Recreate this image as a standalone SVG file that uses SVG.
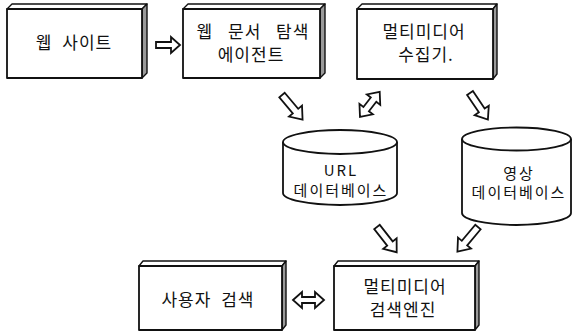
<svg xmlns="http://www.w3.org/2000/svg" width="573" height="335" viewBox="0 0 573 335">
<style>
.front{fill:#fff;stroke:#111;stroke-width:1.8;stroke-linejoin:round}
.top{fill:#fff;stroke:#111;stroke-width:1.4;stroke-linejoin:round}
.side{fill:#9a9a9a;stroke:#111;stroke-width:1.4;stroke-linejoin:round}
.cyl{fill:#fff;stroke:#111;stroke-width:1.8}
.arr{fill:#fff;stroke:#111;stroke-width:1.8;stroke-linejoin:miter}
.t{font-family:"Noto Sans CJK KR","Noto Sans",sans-serif;font-size:17px;fill:#111;text-anchor:middle;letter-spacing:1px}
.c{font-family:"Noto Sans CJK KR","Noto Sans",sans-serif;font-size:15px;fill:#111;text-anchor:middle;letter-spacing:2px}
</style>
<defs>
<path id="blk" d="M0,-3.5 H21 V-8.5 L32,0 L21,8.5 V3.5 H0 Z"/>
<path id="dbl" d="M0,0 L10,-8.5 V-3.5 H22 V-8.5 L32,0 L22,8.5 V3.5 H10 V8.5 Z"/>
</defs>

<g id="connectors">
<path class="arr" d="M156,42 H171 V37 L180,45 L171,53 V48 H156 Z"/>
<use href="#blk" class="arr" transform="translate(282,95) rotate(50)"/>
<use href="#dbl" class="arr" transform="translate(360,117) rotate(-52)"/>
<use href="#blk" class="arr" transform="translate(470,93) rotate(56)"/>
<use href="#blk" class="arr" transform="translate(377,227) rotate(52)"/>
<use href="#blk" class="arr" transform="translate(478,227) rotate(130)"/>
<path class="arr" d="M293,300 L302,292 V297 H315 V292 L324,300 L315,308 V303 H302 V308 Z"/>
</g>

<g id="web-site">
<polygon class="top" points="7,9 12,4 147,4 142,9"/>
<polygon class="side" points="142,9 147,4 147,73 142,78"/>
<rect class="front" x="7" y="9" width="135" height="69"/>
<text class="t" x="74" y="49" word-spacing="5">웹 사이트</text>
</g>

<g id="web-agent">
<polygon class="top" points="183,9 188,4 325,4 320,9"/>
<polygon class="side" points="320,9 325,4 325,73 320,78"/>
<rect class="front" x="183" y="9" width="137" height="69"/>
<text class="t" x="253" y="38" word-spacing="10">웹 문서 탐색</text>
<text class="t" x="251" y="61">에이전트</text>
</g>

<g id="mm-collector">
<polygon class="top" points="357,9 362,4 497,4 493,9"/>
<polygon class="side" points="493,9 497,4 497,74 493,79"/>
<rect class="front" x="357" y="9" width="136" height="70"/>
<text class="t" x="424" y="38">멀티미디어</text>
<text class="t" x="426" y="61">수집기.</text>
</g>

<g id="url-db">
<path class="cyl" d="M283,142 V193 A57,12 0 0 0 397,193 V142"/>
<ellipse class="cyl" cx="340" cy="142" rx="57" ry="12"/>
<text class="c" x="341" y="176">URL</text>
<text class="c" x="341" y="196">데이터베이스</text>
</g>

<g id="image-db">
<path class="cyl" d="M462,139 V213 A54.5,12 0 0 0 571,213 V139"/>
<ellipse class="cyl" cx="516.5" cy="139" rx="54.5" ry="11.5"/>
<text class="c" x="519" y="179">영상</text>
<text class="c" x="519" y="198">데이터베이스</text>
</g>

<g id="user-search">
<polygon class="top" points="139,266 143,261 286,261 282,266"/>
<polygon class="side" points="282,266 286,261 286,325 282,330"/>
<rect class="front" x="139" y="266" width="143" height="64"/>
<text class="t" x="208" y="306" word-spacing="5">사용자 검색</text>
</g>

<g id="mm-search-engine">
<polygon class="top" points="334,266 338,261 479,261 475,266"/>
<polygon class="side" points="475,266 479,261 479,325 475,330"/>
<rect class="front" x="334" y="266" width="141" height="64"/>
<text class="t" x="405" y="293">멀티미디어</text>
<text class="t" x="403" y="316">검색엔진</text>
</g>
</svg>
